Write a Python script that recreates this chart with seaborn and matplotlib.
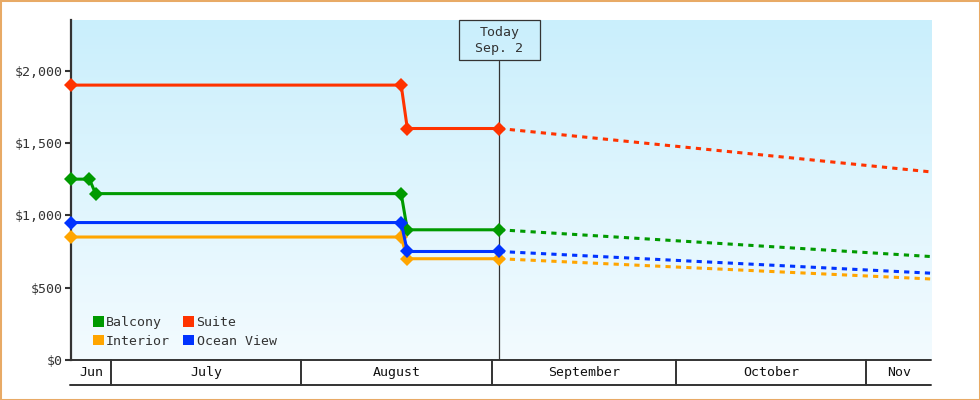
import numpy as np
import pandas as pd
import matplotlib
matplotlib.use("Agg")
import matplotlib.pyplot as plt
import matplotlib.transforms as mtransforms
from matplotlib.patches import Patch, Rectangle
from matplotlib.path import Path
import seaborn as sns

# ---------------- data ----------------
cabins = ["Balcony", "Suite", "Interior", "Ocean View"]
colors = ["#009a00", "#ff3300", "#ffa500", "#0033ff"]

balcony_dates = ["2024-06-24 12:00", "2024-06-27 12:00", "2024-06-28 12:00",
                 "2024-08-17 06:00", "2024-08-18 06:00", "2024-09-02 06:00"]
balcony_prices = [1250, 1250, 1150, 1150, 900, 900]

suite_dates = ["2024-06-24 12:00", "2024-08-17 06:00", "2024-08-18 06:00", "2024-09-02 06:00"]
suite_prices = [1900, 1900, 1600, 1600]

interior_dates = ["2024-06-24 12:00", "2024-08-17 06:00", "2024-08-18 06:00", "2024-09-02 06:00"]
interior_prices = [850, 850, 700, 700]

ocean_dates = ["2024-06-24 12:00", "2024-08-17 06:00", "2024-08-18 06:00", "2024-09-02 06:00"]
ocean_prices = [950, 950, 750, 750]

today = "2024-09-02 06:00"
today_label = "Today\nSep. 2"
forecast_end = "2024-11-11 12:00"
forecast_end_prices = [715, 1300, 560, 600]   # Balcony, Suite, Interior, Ocean View

x_start = "2024-06-24 12:00"
x_end = "2024-11-11 12:00"
month_starts = ["2024-07-01", "2024-08-01", "2024-09-01", "2024-10-01", "2024-11-01"]
month_labels = ["Jun", "July", "August", "September", "October", "Nov"]

y_ticks = [0, 500, 1000, 1500, 2000]
y_tick_labels = ["$0", "$500", "$1,000", "$1,500", "$2,000"]
y_max = 2350

# ---------------- frames ----------------
hist = pd.concat([
    pd.DataFrame({"date": pd.to_datetime(balcony_dates), "price": balcony_prices, "cabin": "Balcony"}),
    pd.DataFrame({"date": pd.to_datetime(suite_dates), "price": suite_prices, "cabin": "Suite"}),
    pd.DataFrame({"date": pd.to_datetime(interior_dates), "price": interior_prices, "cabin": "Interior"}),
    pd.DataFrame({"date": pd.to_datetime(ocean_dates), "price": ocean_prices, "cabin": "Ocean View"}),
], ignore_index=True)

last_prices = {c: hist[hist.cabin == c].price.iloc[-1] for c in cabins}
fc_rows = []
for c, endp in zip(cabins, forecast_end_prices):
    fc_rows.append({"date": pd.Timestamp(today), "price": last_prices[c], "cabin": c})
    fc_rows.append({"date": pd.Timestamp(forecast_end), "price": endp, "cabin": c})
fc = pd.DataFrame(fc_rows)

palette = dict(zip(cabins, colors))

# ---------------- figure ----------------
sns.set_theme(style="white")
plt.rcParams["font.family"] = ["DejaVu Sans Mono", "DejaVu Sans"]
FS = 9.5
DARK = "#333333"

fig = plt.figure(figsize=(9.8, 4.0), dpi=100)
fig.patch.set_facecolor("white")
ax = fig.add_axes([71 / 980, 40 / 400, 860 / 980, 340 / 400])

sns.lineplot(data=fc, x="date", y="price", hue="cabin", hue_order=cabins,
             palette=palette, linewidth=2.2, linestyle=(0, (1.7, 1.7)),
             dash_capstyle="butt", errorbar=None, legend=False, ax=ax, zorder=3)
sns.lineplot(data=hist, x="date", y="price", hue="cabin", hue_order=cabins,
             palette=palette, linewidth=2.2, marker="D", markersize=7,
             markeredgewidth=0, errorbar=None, legend=False, ax=ax, zorder=4)
for ln in ax.lines:
    ln.set_clip_on(False)

# gradient background
grad = np.linspace(0, 1, 256).reshape(-1, 1)
top_c = np.array([0xca, 0xef, 0xfc]) / 255
bot_c = np.array([0xf3, 0xfb, 0xff]) / 255
img = top_c[None, None, :] * (1 - grad[:, :, None]) + bot_c[None, None, :] * grad[:, :, None]
ax.imshow(img, extent=[0, 1, 0, 1], transform=ax.transAxes, aspect="auto",
          zorder=0, origin="upper")

ax.set_xlim(pd.Timestamp(x_start), pd.Timestamp(x_end))
ax.set_ylim(0, y_max)
ax.set_xlabel("")
ax.set_ylabel("")
ax.set_xticks([])
ax.set_yticks(y_ticks)
ax.set_yticklabels(y_tick_labels)
ax.tick_params(axis="y", left=True, length=4.3, width=1.5, color=DARK,
               pad=2, labelsize=FS, labelcolor=DARK)
for s in ["top", "right", "bottom"]:
    ax.spines[s].set_visible(False)
ax.spines["left"].set_color(DARK)
ax.spines["left"].set_linewidth(1.6)
ax.spines["left"].set_zorder(2)

# today marker line + label box
box_bottom_frac = (360 - 60.7) / 340
ax.axvline(pd.Timestamp(today), ymin=0, ymax=box_bottom_frac, color=DARK, lw=0.9, zorder=2)

PY = 0.42


def tag_box(x0, y0, width, height, mutation_size):
    px = 1.22 * mutation_size
    py = PY * mutation_size
    x0, y0 = x0 - px, y0 - py
    x1, y1 = x0 + width + 2 * px, y0 + height + 2 * py
    return Path([(x0, y0), (x1, y0), (x1, y1), (x0, y1), (x0, y0)], closed=True)


ax.annotate(today_label, xy=(pd.Timestamp(today), 1), xycoords=("data", "axes fraction"),
            xytext=(0, -PY * FS), textcoords="offset points", ha="center", va="top",
            fontsize=FS, color=DARK, linespacing=1.3, multialignment="center",
            bbox=dict(boxstyle=tag_box, fc="none", ec=DARK, lw=0.9), zorder=5,
            annotation_clip=False)

# month band below the axes
band = mtransforms.blended_transform_factory(ax.transData, ax.transAxes)
band_h = 25 / 340
edges = [pd.Timestamp(x_start)] + [pd.Timestamp(m) for m in month_starts] + [pd.Timestamp(x_end)]
ax.plot([0, 1], [0, 0], transform=ax.transAxes, color=DARK, lw=1.4, clip_on=False, zorder=5)
ax.plot([-1.5 / 860, 1], [-band_h, -band_h], transform=ax.transAxes, color=DARK, lw=1.4,
        clip_on=False, zorder=5)
for m in month_starts:
    ax.plot([pd.Timestamp(m)] * 2, [0, -band_h], transform=band, color=DARK, lw=1.4,
            clip_on=False, zorder=5)
for lab, a, b in zip(month_labels, edges[:-1], edges[1:]):
    mid = a + (b - a) / 2
    ax.text(mid, -band_h / 2, lab, transform=band, ha="center", va="center",
            fontsize=FS, color="#111111")

# legend
handles = [Patch(facecolor=palette[c], edgecolor="none", label=c)
           for c in ["Balcony", "Interior", "Suite", "Ocean View"]]
ax.legend(handles=handles, ncol=2, loc="lower left",
          bbox_to_anchor=(22 / 860, 12 / 340), frameon=False, fontsize=FS,
          handlelength=0.8, handleheight=0.8, handletextpad=0.2,
          columnspacing=1.0, labelspacing=0.45, borderpad=0, borderaxespad=0,
          labelcolor=DARK)

# figure border
fig.add_artist(Rectangle((0, 0), 1, 1, transform=fig.transFigure, fill=False,
                         ec="#e8aa66", lw=2.2, zorder=10))

fig.savefig("out.png", dpi=100, facecolor="white")
